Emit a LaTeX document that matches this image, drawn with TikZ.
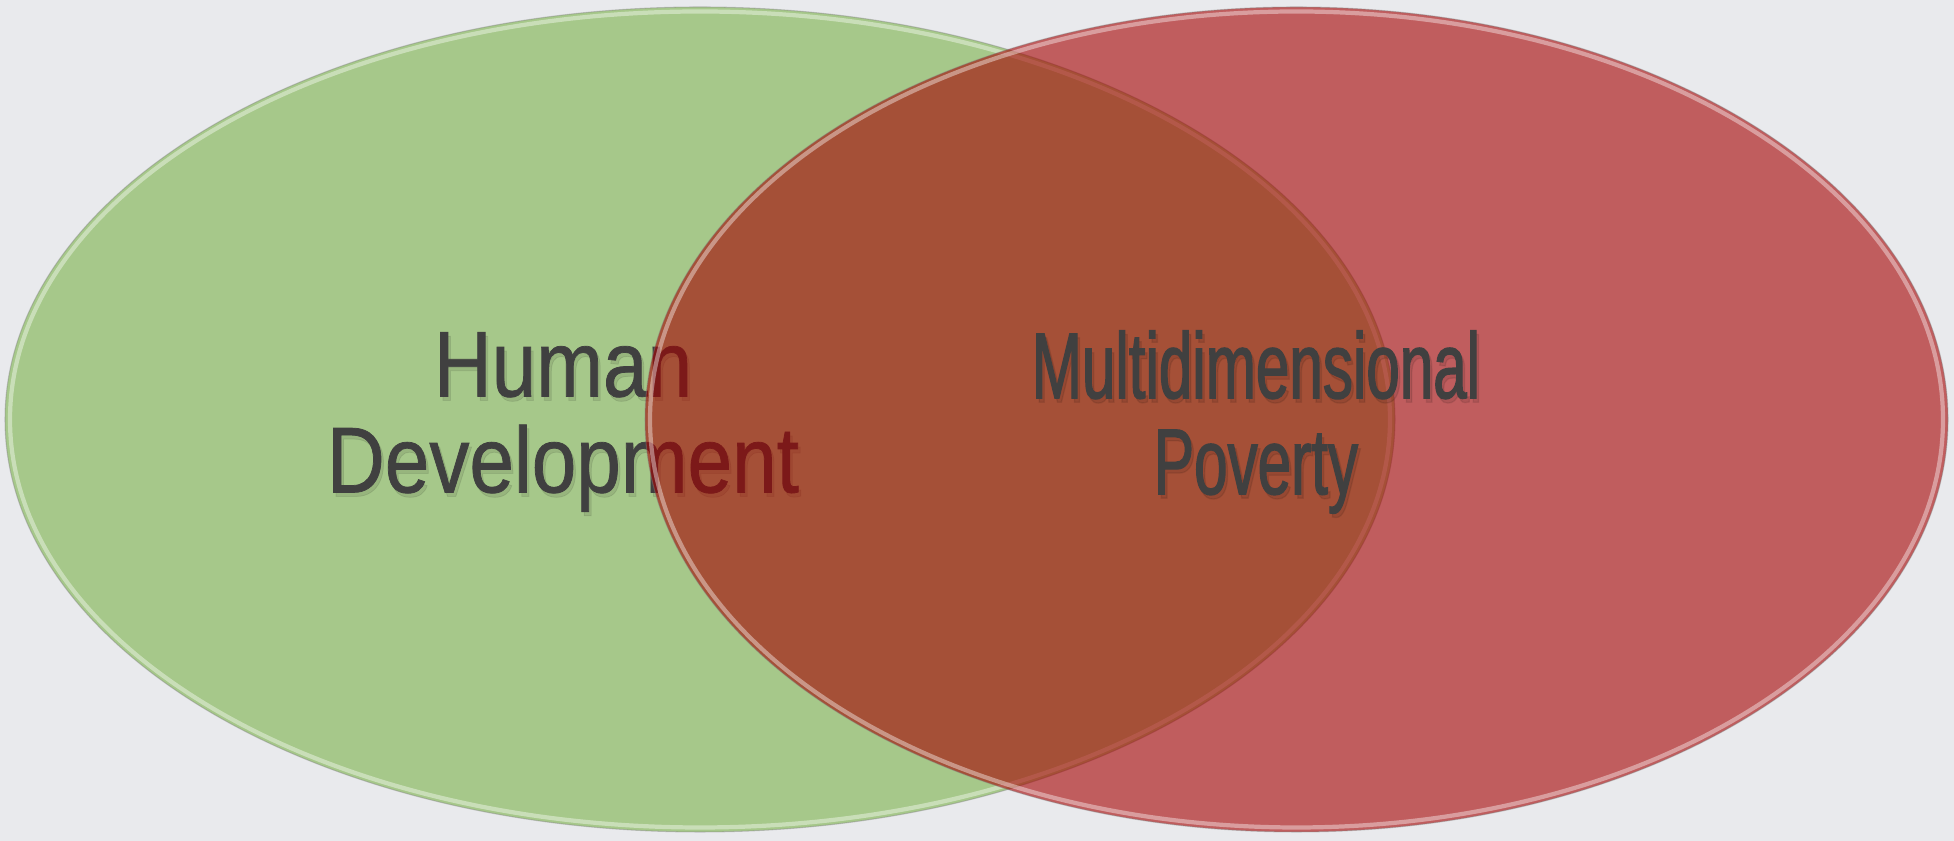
\documentclass[tikz,border=0pt]{standalone}
\usepackage{fontspec}
\newfontfamily\hdfont[FakeStretch=0.857, FakeBold=0.8]{Liberation Sans}
\newfontfamily\mpfont[FakeStretch=0.644, FakeBold=1.4]{Liberation Sans}
\newcommand\labelsize{\fontsize{26.6}{27.3}\selectfont}
\definecolor{bg}{RGB}{233,234,237}
\definecolor{leafgreen}{RGB}{166,200,138}
\definecolor{deepred}{RGB}{165,0,0}
\definecolor{ink}{RGB}{64,64,64}
\tikzstyle{txt} = [align=center, text=ink, inner sep=0pt]
\tikzstyle{txtshadow} = [txt, text=black, text opacity=.09]
\tikzstyle{glare} = [white, opacity=.4, line width=1.2pt]
\tikzstyle{ringline} = [black!50, opacity=.4, line width=.3pt]

\begin{document}
\begin{tikzpicture}
    \useasboundingbox (0,0) rectangle (19.54,8.41);
    \fill[bg] (0,0) rectangle (19.54,8.41);
    % left set
    \fill[leafgreen] (7,4.215) ellipse [x radius=6.95, y radius=4.125];
    \draw[glare] (7,4.215) ellipse [x radius=6.9, y radius=4.08];
    \draw[ringline] (7,4.215) ellipse [x radius=6.95, y radius=4.125];
    \node[txtshadow, font=\hdfont\labelsize] (hds) at (5.655,4.15) {Human\\Development};
    \node[txt, font=\hdfont\labelsize] (hd) at (5.63,4.19) {Human\\Development};
    % right set, see-through so the overlap darkens
    \fill[deepred, fill opacity=.6] (12.965,4.215) ellipse [x radius=6.515, y radius=4.125];
    \draw[glare] (12.965,4.215) ellipse [x radius=6.465, y radius=4.08];
    \draw[ringline] (12.965,4.215) ellipse [x radius=6.515, y radius=4.125];
    \node[txtshadow, font=\mpfont\labelsize] (mps) at (12.585,4.15) {Multidimensional\\Poverty};
    \node[txt, font=\mpfont\labelsize] (mp) at (12.56,4.19) {Multidimensional\\Poverty};
\end{tikzpicture}
\end{document}
